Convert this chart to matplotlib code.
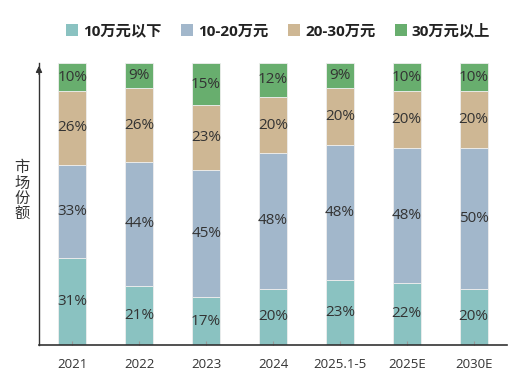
import matplotlib
matplotlib.use("Agg")
import matplotlib.pyplot as plt
from matplotlib.patches import Patch

plt.rcParams['font.family'] = ['Open Sans', 'Noto Sans CJK SC', 'DejaVu Sans']

categories = ["2021", "2022", "2023", "2024", "2025.1-5", "2025E", "2030E"]
series_names = ["10万元以下", "10-20万元", "20-30万元", "30万元以上"]
below10 = [31, 21, 17, 20, 23, 22, 20]
from10to20 = [33, 44, 45, 48, 48, 48, 50]
from20to30 = [26, 26, 23, 20, 20, 20, 20]
above30 = [10, 9, 15, 12, 9, 10, 10]
colors = ["#8AC2C1", "#A2B7CB", "#CEB794", "#68AE6E"]

series = [below10, from10to20, from20to30, above30]

fig = plt.figure(figsize=(5.31, 3.81), dpi=100)
ax = fig.add_axes([39/531, 1-345/381, (507-39)/531, (345-63)/381])

x = list(range(len(categories)))
bottoms = [0]*len(categories)
for vals, col in zip(series, colors):
    ax.bar(x, vals, bottom=bottoms, width=0.42, color=col, edgecolor="#EEEEEE", linewidth=0.6)
    for i, v in enumerate(vals):
        ax.text(x[i], bottoms[i] + v/2, f"{v}%", ha="center", va="center",
                fontsize=11, color="#333333")
    bottoms = [b + v for b, v in zip(bottoms, vals)]

ax.set_xlim(-0.5, len(categories) - 0.5)
ax.set_ylim(0, 100)
ax.set_xticks(x)
ax.set_xticklabels(categories, fontsize=9.5, color="#333333")
ax.tick_params(axis="x", direction="in", length=3, color="#999999", pad=9)
ax.set_yticks([])
for s in ["top", "right"]:
    ax.spines[s].set_visible(False)
ax.spines["left"].set_color("#333333")
ax.spines["bottom"].set_color("#333333")
ax.spines["left"].set_linewidth(1.0)
ax.spines["bottom"].set_linewidth(1.2)
ax.annotate("", xy=(0, 1.0), xycoords="axes fraction", xytext=(0, 0.95),
            arrowprops=dict(arrowstyle="-|>", color="#333333", lw=1.0, mutation_scale=9))

fig.text(22/531, 1-191/381, "\n".join("市场份额"), ha="center", va="center",
         fontsize=11, color="#333333", linespacing=0.9, family=['Noto Sans CJK SC'])

handles = [Patch(facecolor=c, edgecolor="none") for c in colors]
leg = fig.legend(handles, series_names, loc="center", bbox_to_anchor=(0.524, 1-31/381),
                 ncol=4, frameon=False, handlelength=0.75, handleheight=0.75,
                 handletextpad=0.35, columnspacing=1.3,
                 prop={"weight": "bold", "size": 11, "family": ['Open Sans', 'Noto Sans CJK SC']})
for t in leg.get_texts():
    t.set_color("#222222")

fig.savefig("out.png", dpi=100)
